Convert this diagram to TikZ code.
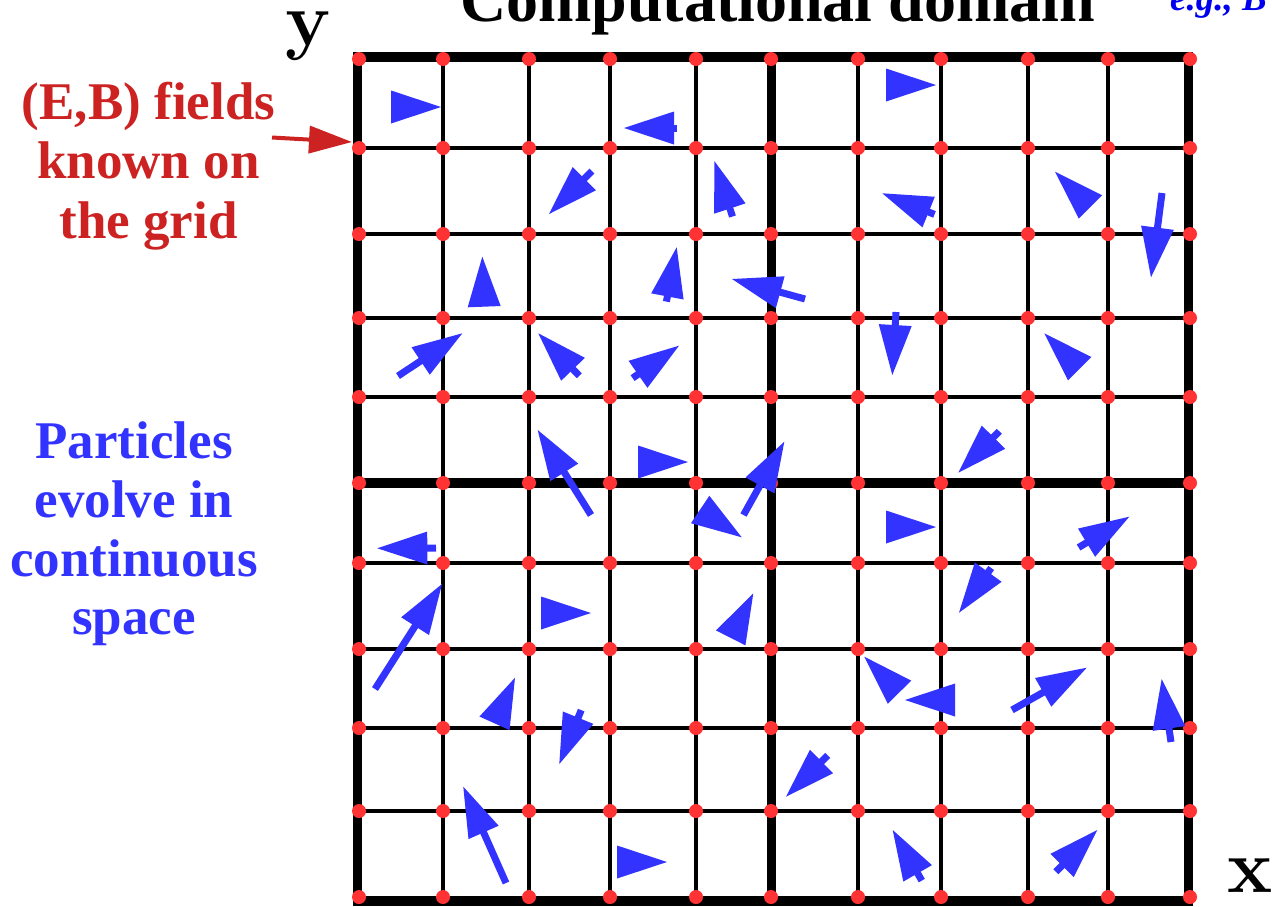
\documentclass[tikz,border=0pt]{standalone}
\usepackage{fontspec}
\newfontfamily\libserif{Liberation Serif}
\usetikzlibrary{calc,arrows.meta}
\definecolor{pblue}{HTML}{3333FF}
\definecolor{dotred}{HTML}{FF3333}
\definecolor{txtred}{HTML}{CC2222}
\definecolor{egblue}{HTML}{0000EE}
\tikzset{
  thingrid/.style={line width=3.4pt, black},
  thickgrid/.style={line width=9.5pt, black},
  griddot/.style={circle, fill=dotred, draw=none, inner sep=0pt, minimum size=14pt},
  shaft/.style={line width=7pt, pblue},
  headfill/.style={fill=pblue},
  redlabel/.style={font=\libserif\bfseries\fontsize{53}{59}\selectfont, text=txtred, anchor=base, inner sep=0pt},
  bluelabel/.style={font=\libserif\bfseries\fontsize{53}{59}\selectfont, text=pblue, anchor=base, inner sep=0pt},
  axislabel/.style={font=\bfseries\fontsize{76}{76}\selectfont, anchor=base, inner sep=0pt},
  redarrow/.style={line width=4pt, txtred, -{Triangle[length=43pt,width=27pt]}},
}
% tail, tip
\newcommand{\partarrow}[2]{%
  \coordinate (ptipc) at (#2);
  \coordinate (pbasec) at ($(ptipc)!50pt!(#1)$);
  \draw[shaft] (#1) -- ($(ptipc)!46pt!(#1)$);
  \fill[headfill] (ptipc) -- ($(pbasec)!16.5pt!90:(ptipc)$) -- ($(pbasec)!16.5pt!-90:(ptipc)$) -- cycle;
}
% base centre, tip
\newcommand{\parthead}[2]{%
  \coordinate (ptipc) at (#2);
  \coordinate (pbasec) at ($(ptipc)!50pt!(#1)$);
  \fill[headfill] (ptipc) -- ($(pbasec)!16.5pt!90:(ptipc)$) -- ($(pbasec)!16.5pt!-90:(ptipc)$) -- cycle;
}
\begin{document}
\begin{tikzpicture}[x=1pt,y=-1pt]
\useasboundingbox (0,0) rectangle (1272,906);
\fill[white] (0,0) rectangle (1272,906);

% grid lines
\foreach \gx in {443,529,610,696,858,941,1028,1108}
  \draw[thingrid] (\gx,57) -- (\gx,901);
\foreach \gy in {148,234,318,397,563,649,728,811}
  \draw[thingrid] (357.5,\gy) -- (1188.5,\gy);
\draw[thickgrid] (771.5,57) -- (771.5,901);
\draw[thickgrid] (357.5,483) -- (1188.5,483);
\draw[thickgrid] (357.5,57) rectangle (1188.5,901);

% grid dots
\foreach \gx [count=\i] in {359,443,529,610,696,771,858,941,1028,1108,1190}
  \foreach \gy [count=\j] in {59,148,234,318,397,483,563,649,728,811,897}
    \node[griddot] (d\i-\j) at (\gx,\gy) {};

% particles
\partarrow{677,128}{624,128}
\partarrow{592,171}{549,214}
\partarrow{732.5,216.5}{714.3,161}
\partarrow{666.4,301.6}{676.7,247.3}
\partarrow{805,299}{732,279}
\partarrow{934.5,214.4}{882.3,193.3}
\partarrow{1162,193}{1151,277.3}
\partarrow{896,312}{892.3,375}
\partarrow{398,376}{462.3,333.3}
\partarrow{579.3,375.8}{538.3,333.3}
\partarrow{632.6,378.1}{679,345.7}
\partarrow{591,515}{537.7,430}
\partarrow{743.5,515}{784.3,441.7}
\partarrow{436,548}{377.3,548.3}
\partarrow{999.3,431.3}{958.3,472.7}
\partarrow{1078.6,547.5}{1129.3,516.7}
\partarrow{991.2,568}{959,612.7}
\partarrow{375,689}{442,584}
\partarrow{581.2,710.1}{559.3,764}
\partarrow{506,883}{463.3,786.7}
\partarrow{1012,710}{1086.7,667.7}
\partarrow{1171,742}{1161.7,679}
\partarrow{827.7,755.4}{786,796.7}
\partarrow{921.8,880.6}{892.7,830}
\partarrow{1055.9,871.7}{1097.3,830}

\parthead{390,107}{441,107}
\parthead{484.2,307}{482.3,256.7}
\parthead{886,85}{936,85}
\parthead{1090.9,207.4}{1055,171.7}
\parthead{637,462}{688,462}
\parthead{700.5,509.7}{741.7,537.3}
\parthead{1080,369}{1044.3,333.3}
\parthead{886,527}{936,527}
\parthead{541,613}{591,613}
\parthead{730.9,637.5}{753.3,593.3}
\parthead{494.5,723.3}{515,677.7}
\parthead{616,862}{667,862}
\parthead{900,692.7}{864.3,656.7}
\parthead{955,700}{905,700}

% labels
\node[font=\libserif\bfseries\fontsize{64}{64}\selectfont, anchor=base, inner sep=0pt] (title) at (777.5,21) {Computational domain};
\node[font=\libserif\bfseries\itshape\fontsize{37}{37}\selectfont, text=egblue, anchor=base west, inner sep=0pt] (eg) at (1170,10) {e.g., B};
\node[axislabel] (ylab) at (308,45) {y};
\node[axislabel] (xlab) at (1250,892) {x};

\node[redlabel] (red1) at (148.5,119) {(E,B) fields};
\node[redlabel] (red2) at (148.5,178.5) {known on};
\node[redlabel] (red3) at (148.5,238) {the grid};

\node[bluelabel] (blue1) at (134,458) {Particles};
\node[bluelabel] (blue2) at (134,517) {evolve in};
\node[bluelabel] (blue3) at (134,576) {continuous};
\node[bluelabel] (blue4) at (134,634) {space};

\coordinate (redtail) at (272,137.5);
\coordinate (redtip) at (352,142);
\draw[redarrow] (redtail) -- (redtip);
\end{tikzpicture}
\end{document}
